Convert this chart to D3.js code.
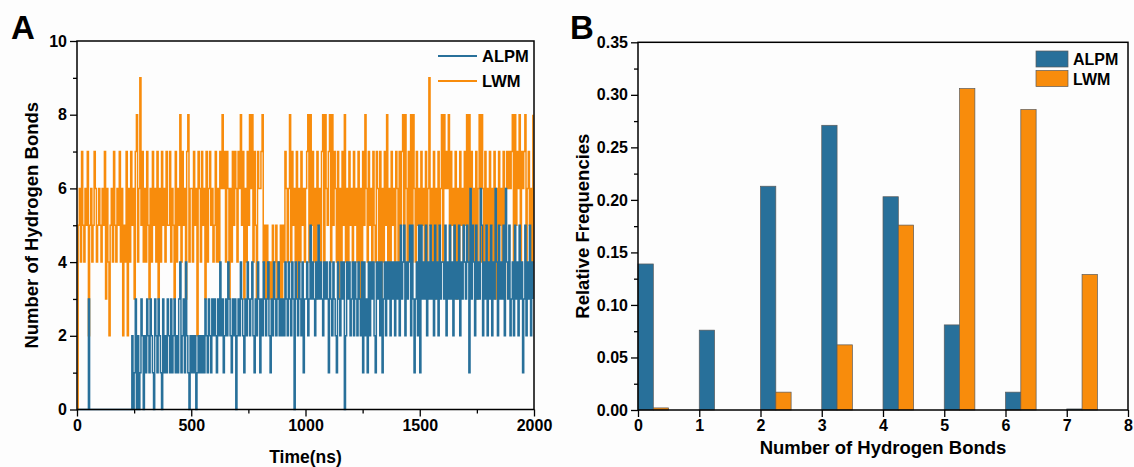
<!DOCTYPE html>
<html>
<head>
<meta charset="utf-8">
<script src="https://cdn.jsdelivr.net/npm/d3@7"></script>
<style>
  body { margin: 0; background: #fdfdfd; }
  svg { display: block; font-family: "Liberation Sans", Arial, sans-serif; }
</style>
</head>
<body>
<svg id="chart" width="1134" height="467"></svg>
<script>
const seriesNames = ["ALPM", "LWM"];
const seriesColors = ["#28709a", "#f88c0c"];

// panel A: number of H-bonds, one reading every 5 ns, one string per 100 ns
const sampleStep = 5;
const alpmCounts = [
  "00000000003000000000", "00000000000000000000", "00000000201302013202", "13213210321321031213",
  "21312312134123142102", "12120121212132132132", "32132423123243213230", "23243213243234213243",
  "13243234213243234232", "32432432430432432413", "34235343243534324343", "14324321432434024342",
  "34243243241423142434", "21434241342434243424", "34253452434525313425", "15343524353425342534",
  "43524353425343524354", "35416354253436524352", "43524364253435264352", "34253425341352435243"
];
const lwmCounts = [
  "05647546572564576456", "54657364256475465746", "25472647563784695746", "47536475647364756475",
  "57465374658475637846", "64756276475637467564", "57464768674763647576", "47685736475868475376",
  "67845354343534534353", "54764684756473647564", "67848574637564784865", "78485764736475846475",
  "64756473647586475647", "54764736475846375647", "64757848647584864756", "47564736956473647568",
  "48676847564736475647", "58484756473684864756", "47564736475647367676", "78485768476784675648"
];
const timeTicks = [0, 500, 1000, 1500, 2000];
const timeMinor = [250, 750, 1250, 1750];
const countTicks = [0, 2, 4, 6, 8, 10];
const countMinor = [1, 3, 5, 7, 9];

// panel B: relative frequencies
const bondCounts = [0, 1, 2, 3, 4, 5, 6, 7];
const alpmFreq = [0.139, 0.076, 0.213, 0.271, 0.203, 0.081, 0.017, 0.001];
const lwmFreq = [0.002, 0.0, 0.017, 0.062, 0.176, 0.306, 0.286, 0.129];
const bondTicks = [0, 1, 2, 3, 4, 5, 6, 7, 8];
const freqTicks = [0, 0.05, 0.10, 0.15, 0.20, 0.25, 0.30, 0.35];
const freqMinor = [0.025, 0.075, 0.125, 0.175, 0.225, 0.275, 0.325];

const svg = d3.select("#chart");
svg.append("rect").attr("width", 1134).attr("height", 467).attr("fill", "#fdfdfd");

function toPoints(chunks){
  const vals = chunks.join("").split("").map(Number);
  return vals.map((v, i) => ({t: i * sampleStep, v}));
}

// common axis drawing (major + minor ticks, bold labels)
function drawAxes(g, x, y, xt, xm, yt, ym, xfmt, yfmt){
  const [x0, x1] = x.range();
  const [y0, y1] = y.range();
  g.append("g").attr("transform", `translate(0,${y0})`)
    .call(d3.axisBottom(x).tickValues(xt).tickSize(7).tickSizeOuter(0).tickPadding(3).tickFormat(xfmt));
  if (xm.length)
    g.append("g").attr("transform", `translate(0,${y0})`)
      .call(d3.axisBottom(x).tickValues(xm).tickSize(4).tickSizeOuter(0).tickFormat(""));
  g.append("g").attr("transform", `translate(${x0},0)`)
    .call(d3.axisLeft(y).tickValues(yt).tickSize(7).tickSizeOuter(0).tickPadding(3).tickFormat(yfmt));
  g.append("g").attr("transform", `translate(${x0},0)`)
    .call(d3.axisLeft(y).tickValues(ym).tickSize(4).tickSizeOuter(0).tickFormat(""));
  g.selectAll(".domain").remove();
  g.selectAll(".tick line").attr("stroke", "#000").attr("stroke-width", 1.3);
  g.selectAll(".tick text").attr("font-size", 16).attr("font-weight", "bold").attr("fill", "#000")
    .attr("font-family", "'Liberation Sans', Arial, sans-serif");
  // frame
  g.append("rect").attr("x", x0).attr("y", y1).attr("width", x1 - x0).attr("height", y0 - y1)
    .attr("fill", "none").attr("stroke", "#000").attr("stroke-width", 1.5);
}

// ---------- panel A ----------
const xA = d3.scaleLinear([0, 2000], [77, 534]);
const yA = d3.scaleLinear([0, 10], [409.5, 41]);
const gA = svg.append("g");

const line = d3.line().curve(d3.curveStepAfter).x(d => xA(d.t)).y(d => yA(d.v));
const series = [toPoints(alpmCounts), toPoints(lwmCounts)];
// LWM underneath, ALPM on top
[1, 0].forEach(i => {
  gA.append("path").datum(series[i])
    .attr("d", line).attr("fill", "none")
    .attr("stroke", seriesColors[i]).attr("stroke-width", 1.5);
});

drawAxes(gA, xA, yA, timeTicks, timeMinor, countTicks, countMinor, d3.format("d"), d3.format("d"));

const legA = gA.append("g");
seriesNames.forEach((name, i) => {
  const yy = 56 + i * 25;
  legA.append("line").attr("x1", 438).attr("x2", 477).attr("y1", yy).attr("y2", yy)
    .attr("stroke", seriesColors[i]).attr("stroke-width", 2.2);
  legA.append("text").attr("x", 482).attr("y", yy + 6).text(name)
    .attr("font-size", 16.5).attr("font-weight", "bold");
});

gA.append("text").attr("x", xA(1000)).attr("y", 463).attr("text-anchor", "middle")
  .attr("font-size", 17.5).attr("font-weight", "bold").text("Time(ns)");
gA.append("text").attr("transform", `translate(38,${(yA(0) + yA(10)) / 2}) rotate(-90)`)
  .attr("text-anchor", "middle").attr("font-size", 18.5).attr("font-weight", "bold")
  .text("Number of Hydrogen Bonds");
gA.append("text").attr("x", 11).attr("y", 39).attr("font-size", 33).attr("font-weight", "bold").text("A");

// ---------- panel B ----------
const xB = d3.scaleLinear([0, 8], [638, 1128]);
const yB = d3.scaleLinear([0, 0.35], [410, 42.3]);
const gB = svg.append("g");
const barW = 0.25;

[alpmFreq, lwmFreq].forEach((vals, s) => {
  gB.append("g").selectAll("rect")
    .data(bondCounts)
    .join("rect")
    .attr("x", d => xB(d + s * barW))
    .attr("width", xB(barW) - xB(0))
    .attr("y", (d, i) => yB(vals[i]))
    .attr("height", (d, i) => yB(0) - yB(vals[i]))
    .attr("fill", seriesColors[s])
    .attr("stroke", "#5a5a5a").attr("stroke-width", 0.7);
});

drawAxes(gB, xB, yB, bondTicks, [], freqTicks, freqMinor, d3.format("d"), d3.format(".2f"));

const legB = gB.append("g");
seriesNames.forEach((name, i) => {
  const yy = 51 + i * 19.5;
  legB.append("rect").attr("x", 1036).attr("y", yy).attr("width", 32).attr("height", 16)
    .attr("fill", seriesColors[i]).attr("stroke", "#5a5a5a").attr("stroke-width", 0.7);
  legB.append("text").attr("x", 1073).attr("y", yy + 14).text(name)
    .attr("font-size", 16).attr("font-weight", "bold");
});

gB.append("text").attr("x", xB(4)).attr("y", 454).attr("text-anchor", "middle")
  .attr("font-size", 18.5).attr("font-weight", "bold").text("Number of Hydrogen Bonds");
gB.append("text").attr("transform", `translate(589,${(yB(0) + yB(0.35)) / 2}) rotate(-90)`)
  .attr("text-anchor", "middle").attr("font-size", 18.5).attr("font-weight", "bold")
  .text("Relative Frequencies");
gB.append("text").attr("x", 570).attr("y", 39).attr("font-size", 33).attr("font-weight", "bold").text("B");
</script>
</body>
</html>
